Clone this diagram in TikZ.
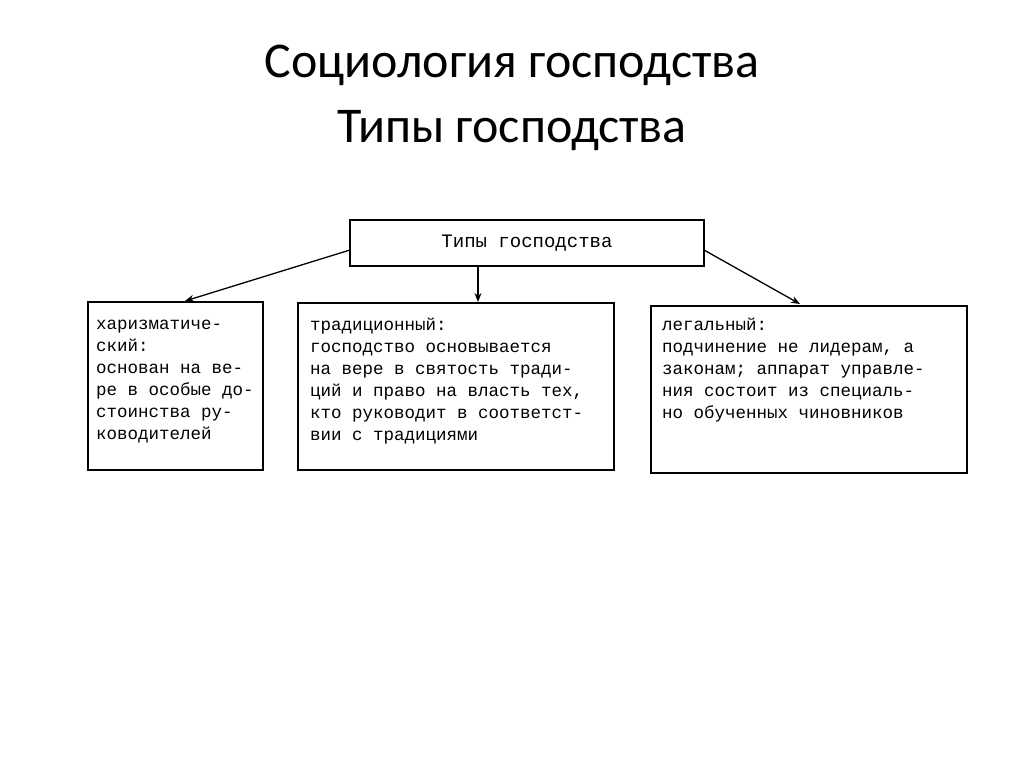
\documentclass[tikz,border=0pt]{standalone}
\usepackage{fontspec}
\usetikzlibrary{arrows.meta}
\setmainfont{Liberation Serif}
\setmonofont{Liberation Mono}
\newfontfamily\titlefont{Carlito}
\begin{document}
\begin{tikzpicture}[x=1pt,y=-1pt,
  box/.style={draw,line width=1.6pt},
  txt/.style={anchor=north west,align=left,inner sep=0pt,font=\ttfamily\fontsize{17.5}{22}\selectfont},
  arr/.style={-{Stealth[length=9pt,width=7pt]},line width=1.3pt}]
\useasboundingbox[fill=white] (0,0) rectangle (1024,767);
\node[font=\titlefont\fontsize{50}{65}\selectfont,align=center] (title) at (512,98) {Социология господства\\Типы господства};
\draw[box] (350,220) rectangle (704,266);
\node (top) at (527,243) {\ttfamily\fontsize{19}{22}\selectfont Типы господства};
\coordinate (tl) at (350,250); \coordinate (tm) at (478,266); \coordinate (tr) at (704,250);
\draw[box] (88,302) rectangle (263,470);
\draw[box] (298,303) rectangle (614,470);
\draw[box] (651,306) rectangle (967,473);
\coordinate (bl) at (185,301); \coordinate (bm) at (478,302); \coordinate (br) at (800,304);
\draw[arr] (tl) -- (bl);
\draw[arr] (tm) -- (bm);
\draw[arr] (tr) -- (br);
\node[txt] (l) at (96,320) {харизматиче-\\ский:\\основан на ве-\\ре в особые до-\\стоинства ру-\\ководителей};
\node[txt] (m) at (310,318) {традиционный:\\господство основывается\\на вере в святость тради-\\ций и право на власть тех,\\кто руководит в соответст-\\вии с традициями};
\node[txt] (r) at (662,318) {легальный:\\подчинение не лидерам, а\\законам; аппарат управле-\\ния состоит из специаль-\\но обученных чиновников};
\end{tikzpicture}
\end{document}
